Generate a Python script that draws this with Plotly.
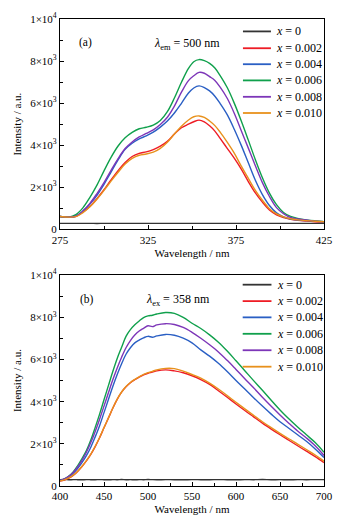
import plotly.graph_objects as go

# ---------------- data: panel (a) excitation spectra ----------------
wl_a = [275, 280, 284, 288, 292, 296, 300, 304, 308, 312, 316, 320, 324, 328, 332, 336,
        340, 344, 348, 351, 354, 357, 360, 363, 366, 370, 374, 378, 382, 386, 390, 394,
        398, 402, 406, 410, 415, 420, 425]
a_x0 = [280, 282, 279, 281, 280, 278, 280, 281, 279, 280, 281, 279, 280, 280, 281, 279,
        280, 281, 280, 279, 280, 281, 280, 279, 280, 281, 280, 279, 280, 281, 280, 279,
        280, 281, 280, 279, 280, 281, 280]
a_x0002 = [610, 570, 620, 820, 1090, 1460, 1880, 2350, 2790, 3180, 3460, 3610, 3680, 3790,
           3950, 4180, 4530, 4830, 5000, 5115, 5190, 5110, 4920, 4670, 4320, 3850, 3380,
           2860, 2270, 1730, 1290, 920, 690, 560, 480, 430, 390, 360, 340]
a_x0004 = [610, 580, 620, 865, 1200, 1620, 2140, 2720, 3300, 3800, 4090, 4300, 4440, 4620,
           4860, 5150, 5530, 5990, 6480, 6720, 6820, 6740, 6580, 6330, 5980, 5450, 4760,
           3990, 3160, 2330, 1650, 1130, 780, 590, 490, 440, 410, 380, 360]
a_x0006 = [610, 580, 700, 1020, 1520, 2100, 2780, 3420, 3960, 4350, 4610, 4780, 4850, 4950,
           5170, 5590, 6240, 6990, 7650, 7970, 8070, 8020, 7890, 7670, 7310, 6740, 6000,
           5150, 4240, 3310, 2450, 1720, 1170, 800, 610, 520, 450, 400, 360]
a_x0008 = [610, 580, 620, 865, 1230, 1700, 2220, 2800, 3360, 3840, 4150, 4390, 4560, 4730,
           4980, 5330, 5860, 6520, 7070, 7300, 7460, 7420, 7260, 7080, 6760, 6230, 5520,
           4690, 3860, 3020, 2220, 1560, 1030, 740, 560, 490, 440, 390, 360]
a_x0010 = [610, 580, 600, 790, 1070, 1430, 1850, 2290, 2710, 3100, 3370, 3520, 3580, 3670,
           3850, 4140, 4530, 4900, 5200, 5350, 5390, 5320, 5150, 4930, 4620, 4140, 3620,
           3000, 2420, 1850, 1380, 980, 730, 590, 500, 450, 410, 380, 355]

# ---------------- data: panel (b) emission spectra ----------------
wl_b = [400, 405, 410, 415, 420, 425, 430, 435, 440, 445, 450, 455, 460, 465, 470, 475,
        480, 485, 490, 495, 500, 505, 510, 520, 530, 540, 550, 560, 570, 580, 590, 600,
        610, 620, 630, 640, 650, 660, 670, 680, 690, 700]
b_x0 = [300, 305, 298, 302, 300, 296, 303, 300, 298, 304, 300, 297, 302, 300, 305, 299,
        301, 297, 303, 300, 306, 301, 298, 302, 300, 296, 303, 300, 298, 304, 300, 297,
        302, 300, 305, 299, 301, 297, 303, 300, 302, 301]
b_x0002 = [230, 280, 370, 500, 690, 920, 1190, 1500, 1870, 2290, 2760, 3220, 3690, 4110,
           4450, 4710, 4900, 5040, 5160, 5270, 5350, 5400, 5460, 5510, 5460, 5370, 5230,
           5050, 4820, 4520, 4210, 3890, 3580, 3280, 2980, 2700, 2430, 2170, 1910, 1650,
           1390, 1110]
b_x0004 = [260, 320, 420, 600, 830, 1110, 1440, 1840, 2330, 2860, 3480, 4100, 4720, 5290,
           5800, 6250, 6560, 6790, 6920, 7030, 7100, 7060, 7120, 7190, 7150, 7010, 6790,
           6460, 6160, 5820, 5430, 5010, 4600, 4190, 3790, 3410, 3050, 2740, 2430, 2120,
           1760, 1350]
b_x0006 = [260, 340, 470, 670, 960, 1300, 1680, 2180, 2780, 3410, 4090, 4760, 5430, 6050,
           6580, 7100, 7420, 7650, 7830, 7990, 8070, 8100, 8160, 8230, 8190, 8000, 7720,
           7470, 7170, 6820, 6400, 5940, 5470, 5000, 4540, 4070, 3610, 3190, 2800, 2430,
           2060, 1600]
b_x0008 = [260, 340, 460, 640, 900, 1220, 1600, 2060, 2590, 3170, 3790, 4420, 5040, 5600,
           6110, 6560, 6900, 7160, 7350, 7480, 7600, 7560, 7640, 7700, 7660, 7520, 7290,
           7010, 6700, 6360, 5960, 5530, 5090, 4660, 4210, 3780, 3370, 2980, 2610, 2280,
           1910, 1450]
b_x0010 = [240, 290, 380, 515, 705, 935, 1205, 1515, 1885, 2300, 2770, 3230, 3700, 4120,
           4460, 4720, 4910, 5060, 5180, 5300, 5380, 5440, 5510, 5580, 5570, 5450, 5290,
           5120, 4880, 4600, 4290, 3970, 3660, 3350, 3050, 2770, 2500, 2240, 1990, 1730,
           1470, 1180]

series_names = ["0", "0.002", "0.004", "0.006", "0.008", "0.010"]
series_colors = ["#333333", "#ee1c25", "#2a5fc4", "#10a04c", "#7d36b8", "#e8911c"]

y_tickvals = [0, 2000, 4000, 6000, 8000, 10000]
y_ticktext = ["0", "2×10<sup>3</sup>", "4×10<sup>3</sup>", "6×10<sup>3</sup>",
              "8×10<sup>3</sup>", "1×10<sup>4</sup>"]
y_minor = [1000, 3000, 5000, 7000, 9000]
xa_tickvals = [275, 325, 375, 425]
xa_minor = [300, 350, 400]
xb_tickvals = [400, 450, 500, 550, 600, 650, 700]
xb_minor = [425, 475, 525, 575, 625, 675]

FONT = "Liberation Serif, Times New Roman, serif"

fig = go.Figure()
a_data = [a_x0, a_x0002, a_x0004, a_x0006, a_x0008, a_x0010]
b_data = [b_x0, b_x0002, b_x0004, b_x0006, b_x0008, b_x0010]
for name, col, ya in zip(series_names, series_colors, a_data):
    fig.add_trace(go.Scatter(x=wl_a, y=ya, mode="lines", line=dict(color=col, width=1.4),
                             showlegend=False, xaxis="x", yaxis="y", name="x = " + name,
                             line_shape="spline"))
for name, col, yb in zip(series_names, series_colors, b_data):
    fig.add_trace(go.Scatter(x=wl_b, y=yb, mode="lines", line=dict(color=col, width=1.4),
                             showlegend=False, xaxis="x2", yaxis="y2", name="x = " + name,
                             line_shape="spline"))

common_axis = dict(showline=True, linecolor="black", linewidth=1.2, mirror=True,
                   ticks="inside", ticklen=4, tickcolor="black", tickwidth=1,
                   showgrid=False, zeroline=False,
                   tickfont=dict(family=FONT, size=11, color="black"))

fig.update_layout(
    width=344, height=530,
    margin=dict(l=60, r=17, t=11, b=44),
    paper_bgcolor="white", plot_bgcolor="white",
    font=dict(family=FONT, size=11, color="black"),
    xaxis=dict(domain=[0, 1], anchor="y", range=[275, 425], tickmode="array",
               tickvals=xa_tickvals, ticktext=[str(v) for v in xa_tickvals],
               minor=dict(tickvals=xa_minor, ticks="inside", ticklen=3, tickcolor="black"),
               title=dict(text="Wavelength / nm", font=dict(family=FONT, size=11), standoff=4),
               **common_axis),
    yaxis=dict(domain=[0.5497, 1], anchor="x", range=[0, 10000], tickmode="array",
               tickvals=y_tickvals, ticktext=y_ticktext,
               minor=dict(tickvals=y_minor, ticks="inside", ticklen=3, tickcolor="black"),
               title=dict(text="Intensity / a.u.", font=dict(family=FONT, size=11), standoff=6),
               **common_axis),
    xaxis2=dict(domain=[0, 1], anchor="y2", range=[400, 700], tickmode="array",
                tickvals=xb_tickvals, ticktext=[str(v) for v in xb_tickvals],
                minor=dict(tickvals=xb_minor, ticks="inside", ticklen=3, tickcolor="black"),
                title=dict(text="Wavelength / nm", font=dict(family=FONT, size=11), standoff=4),
                **common_axis),
    yaxis2=dict(domain=[0, 0.4514], anchor="x2", range=[0, 10000], tickmode="array",
                tickvals=y_tickvals, ticktext=y_ticktext,
                minor=dict(tickvals=y_minor, ticks="inside", ticklen=3, tickcolor="black"),
                title=dict(text="Intensity / a.u.", font=dict(family=FONT, size=11), standoff=6),
                **common_axis),
)

# manual legends (swatch lines + labels) in axis-domain coordinates
leg_a_y = [0.941, 0.861, 0.785, 0.708, 0.630, 0.553]
leg_b_y = [0.955, 0.877, 0.800, 0.722, 0.644, 0.566]
for (xr, yr, ys, x0, x1, xt) in [("x domain", "y domain", leg_a_y, 0.693, 0.799, 0.812),
                                  ("x2 domain", "y2 domain", leg_b_y, 0.692, 0.801, 0.814)]:
    for name, col, yy in zip(series_names, series_colors, ys):
        fig.add_shape(type="line", xref=xr, yref=yr, x0=x0, x1=x1, y0=yy, y1=yy,
                      line=dict(color=col, width=1.8))
        fig.add_annotation(xref=xr, yref=yr, x=xt, y=yy, xanchor="left", yanchor="middle",
                           text="<i>x</i> = " + name, showarrow=False,
                           font=dict(family=FONT, size=12, color="black"))

fig.add_annotation(xref="x domain", yref="y domain", x=0.064, y=0.927, text="(a)",
                   showarrow=False, font=dict(family=FONT, size=11.5))
fig.add_annotation(xref="x domain", yref="y domain", x=0.481, y=0.927,
                   text="<i>λ</i><sub>em</sub> = 500 nm",
                   showarrow=False, font=dict(family=FONT, size=12))
fig.add_annotation(xref="x2 domain", yref="y2 domain", x=0.0675, y=0.924, text="(b)",
                   showarrow=False, font=dict(family=FONT, size=11.5))
fig.add_annotation(xref="x2 domain", yref="y2 domain", x=0.448, y=0.931,
                   text="<i>λ</i><sub>ex</sub> = 358 nm",
                   showarrow=False, font=dict(family=FONT, size=12))

fig.write_html("out.html", config={"displayModeBar": False},
               post_script="document.body.style.margin='0';document.body.style.padding='0';")
